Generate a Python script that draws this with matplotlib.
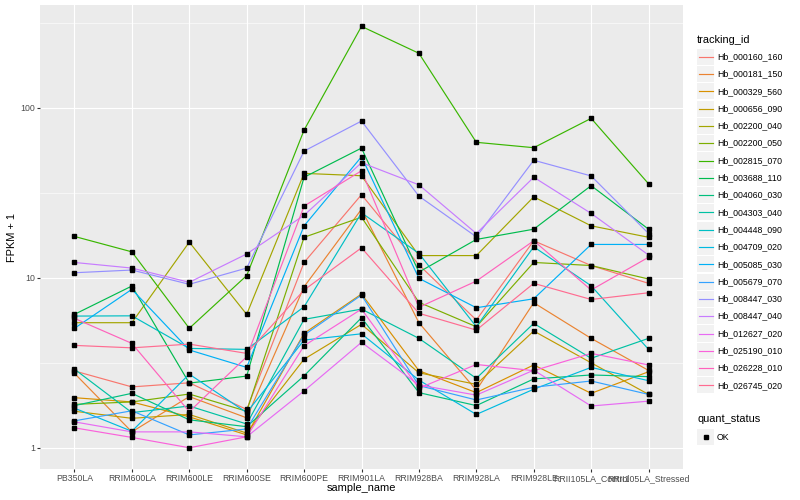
import matplotlib
matplotlib.use("Agg")
import matplotlib.pyplot as plt
from matplotlib.lines import Line2D
from matplotlib.patches import Rectangle

# sample names on the x axis
samples = ["PB350LA", "RRIM600LA", "RRIM600LE", "RRIM600SE", "RRIM600PE",
           "RRIM901LA", "RRIM928BA", "RRIM928LA", "RRIM928LE",
           "RRII105LA_Control", "RRII105LA_Stressed"]

tracking_ids = ["Hb_000160_160", "Hb_000181_150", "Hb_000329_560", "Hb_000656_090",
                "Hb_002200_040", "Hb_002200_050", "Hb_002815_070", "Hb_003688_110",
                "Hb_004060_030", "Hb_004303_040", "Hb_004448_090", "Hb_004709_020",
                "Hb_005085_030", "Hb_005679_070", "Hb_008447_030", "Hb_008447_040",
                "Hb_012627_020", "Hb_025190_010", "Hb_026228_010", "Hb_026745_020"]

# ggplot hue palette, 20 levels
colors = ["#F8766D", "#EA8331", "#D89000", "#C09B00", "#A3A500", "#7CAE00",
          "#39B600", "#00BB4E", "#00BF7D", "#00C1A3", "#00BFC4", "#00BAE0",
          "#00B0F6", "#35A2FF", "#9590FF", "#C77CFF", "#E76BF3", "#FA62DB",
          "#FF62BC", "#FF6C91"]

# FPKM + 1, one list per tracking id
hb_000160_160 = [2.83, 2.28, 2.41, 1.68, 12.3, 30.8, 11.9, 5.64, 16.5, 11.8, 9.27]
hb_000181_150 = [2.74, 1.24, 2.00, 1.50, 8.85, 25.3, 5.44, 2.18, 7.13, 4.40, 2.85]
hb_000329_560 = [1.97, 1.86, 1.52, 1.19, 4.71, 8.02, 2.84, 2.11, 3.07, 2.09, 2.80]
hb_000656_090 = [1.64, 1.49, 1.57, 1.22, 3.32, 5.32, 2.76, 2.36, 4.86, 3.16, 2.06]
hb_002200_040 = [5.44, 5.44, 16.2, 6.09, 41.1, 39.8, 13.5, 13.5, 29.9, 20.2, 17.3]
hb_002200_050 = [1.80, 1.86, 2.07, 1.64, 17.3, 22.7, 7.17, 5.15, 12.3, 11.8, 9.83]
hb_002815_070 = [17.5, 14.2, 5.04, 10.3, 73.9, 301.0, 209.0, 62.6, 58.2, 86.6, 35.7]
hb_003688_110 = [6.09, 8.94, 2.40, 2.64, 39.0, 57.9, 10.8, 16.8, 19.3, 34.8, 19.3]
hb_004060_030 = [1.77, 2.09, 1.46, 1.33, 2.65, 5.82, 2.11, 1.77, 2.54, 2.68, 2.62]
hb_004303_040 = [2.90, 1.61, 1.76, 1.38, 5.69, 6.54, 4.40, 2.56, 5.39, 3.36, 4.40]
hb_004448_090 = [5.95, 5.97, 3.84, 3.79, 6.75, 24.1, 13.9, 5.15, 15.2, 8.97, 3.79]
hb_004709_020 = [1.71, 1.25, 2.71, 1.61, 4.30, 4.68, 2.50, 1.57, 2.21, 2.97, 2.48]
hb_005085_030 = [5.04, 8.55, 3.76, 2.97, 20.2, 51.5, 9.92, 6.66, 7.52, 15.7, 15.7]
hb_005679_070 = [1.44, 1.65, 1.19, 1.29, 4.60, 7.91, 2.32, 1.91, 2.27, 2.47, 2.06]
hb_008447_030 = [10.7, 11.1, 9.15, 11.4, 55.6, 83.5, 30.2, 17.4, 49.1, 39.7, 18.2]
hb_008447_040 = [12.3, 11.4, 9.40, 13.8, 23.3, 47.5, 35.2, 18.2, 39.0, 23.9, 13.6]
hb_012627_020 = [1.42, 1.24, 1.24, 1.16, 2.16, 4.17, 2.34, 2.04, 2.86, 1.76, 1.88]
hb_025190_010 = [1.31, 1.15, 1.00, 1.16, 3.98, 6.54, 2.24, 3.09, 2.84, 3.59, 3.07]
hb_026228_010 = [5.77, 4.11, 1.63, 3.43, 26.4, 42.6, 6.70, 9.56, 16.5, 8.47, 13.2]
hb_026745_020 = [4.00, 3.87, 4.07, 3.59, 8.47, 15.0, 6.18, 4.92, 9.27, 7.45, 8.16]

series = [hb_000160_160, hb_000181_150, hb_000329_560, hb_000656_090,
          hb_002200_040, hb_002200_050, hb_002815_070, hb_003688_110,
          hb_004060_030, hb_004303_040, hb_004448_090, hb_004709_020,
          hb_005085_030, hb_005679_070, hb_008447_030, hb_008447_040,
          hb_012627_020, hb_025190_010, hb_026228_010, hb_026745_020]

W, H = 800, 500


def fx(px):
    return px / W


def fy(py):
    return 1 - py / H


def legend_key(fig, yc, step):
    # grey key box like ggplot's legend.key
    fig.add_artist(Rectangle((fx(697), fy(yc + step / 2 - 0.6)), fx(714) - fx(697),
                             fy(yc - step / 2 + 0.6) - fy(yc + step / 2 - 0.6),
                             facecolor="#F2F2F2", edgecolor="none",
                             transform=fig.transFigure))


def main() -> None:
    plt.rcParams['font.family'] = ['Liberation Sans', 'DejaVu Sans']
    fig = plt.figure(figsize=(8, 5), dpi=100)
    ax = fig.add_axes([fx(40), fy(469), fx(683) - fx(40), fy(5) - fy(469)])
    ax.set_facecolor("#EBEBEB")
    for s in ax.spines.values():
        s.set_visible(False)

    xs = list(range(len(samples)))
    for vals, c in zip(series, colors):
        ax.plot(xs, vals, color=c, lw=0.85, zorder=3)
    for vals in series:
        ax.plot(xs, vals, ls="none", marker="s", ms=2.3, color="black", zorder=4)

    ax.set_yscale("log")
    ax.set_ylim(0.75, 402)
    ax.set_xlim(-0.6, len(samples) - 0.4)
    ax.set_yticks([1, 10, 100])
    ax.set_yticklabels(["1", "10", "100"])
    ax.set_yticks([10 ** 0.5, 10 ** 1.5, 10 ** 2.5], minor=True)
    ax.yaxis.set_minor_formatter(plt.NullFormatter())
    ax.set_xticks(xs)
    ax.set_xticklabels(samples)
    ax.grid(True, which="major", color="white", lw=0.8, zorder=0)
    ax.grid(True, which="minor", axis="y", color="white", lw=0.4, zorder=0)
    ax.set_axisbelow(True)
    ax.tick_params(which="major", length=2.2, width=0.8, color="#333333",
                   labelsize=6.3, labelcolor="#4D4D4D", pad=1.5)
    ax.tick_params(which="minor", length=0)

    fig.text(fx(361.5), fy(488), "sample_name", ha="center", va="center", fontsize=7.9)
    fig.text(fx(12), fy(237), "FPKM + 1", ha="center", va="center",
             rotation=90, fontsize=7.9)

    # legend: tracking_id
    fig.text(fx(697), fy(40), "tracking_id", ha="left", va="center", fontsize=7.9)
    step = 17.3
    y0 = 56.7
    for i, (tid, c) in enumerate(zip(tracking_ids, colors)):
        yc = y0 + i * step
        legend_key(fig, yc, step)
        fig.add_artist(Line2D([fx(698.5), fx(712.5)], [fy(yc), fy(yc)], color=c,
                              lw=0.85, transform=fig.transFigure))
        fig.text(fx(717), fy(yc), tid, ha="left", va="center", fontsize=6.3)

    # legend: quant_status
    fig.text(fx(697), fy(419), "quant_status", ha="left", va="center", fontsize=7.9)
    yk = 437
    legend_key(fig, yk, step)
    fig.add_artist(Line2D([fx(705.5)], [fy(yk)], ls="none", marker="s", ms=2.3,
                          color="black", transform=fig.transFigure))
    fig.text(fx(717), fy(yk), "OK", ha="left", va="center", fontsize=6.3)

    fig.savefig("out.png", dpi=100)


if __name__ == "__main__":
    main()
